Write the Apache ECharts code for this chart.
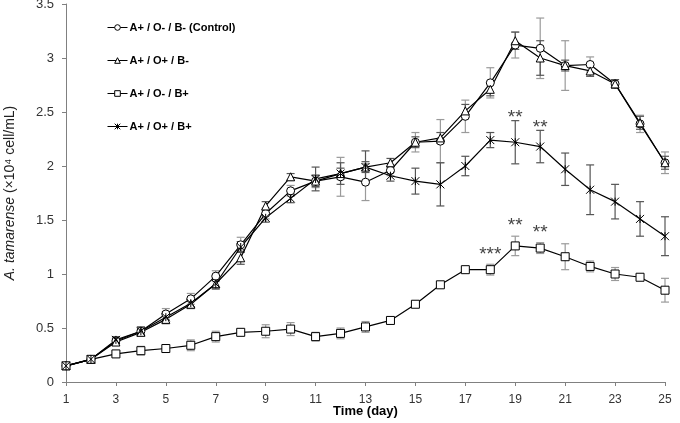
<!DOCTYPE html>
<html>
<head>
<meta charset="utf-8">
<script src="https://cdn.jsdelivr.net/npm/echarts@6/dist/echarts.min.js"></script>
<style>
  html, body { margin: 0; padding: 0; background: #fff; }
  #chart { width: 680px; height: 423px; }
</style>
</head>
<body>
<div id="chart"></div>
<script>
// days of culture
var days = ['1','2','3','4','5','6','7','8','9','10','11','12','13','14','15','16','17','18','19','20','21','22','23','24','25'];

// A+ / O- / B- (Control)
var control    = [0.15,0.21,0.38,0.47,0.63,0.77,0.98,1.27,1.56,1.77,1.86,1.90,1.85,1.96,2.22,2.23,2.46,2.77,3.12,3.09,2.93,2.94,2.76,2.39,2.03];
var controlErr = [0.02,0.02,0.03,0.04,0.05,0.05,0.05,0.07,0.05,0.05,0.06,0.18,0.17,0.05,0.09,0.20,0.15,0.14,0.12,0.28,0.23,0.07,0.04,0.08,0.10];
// A+ / O+ / B-
var oPlus    = [0.15,0.21,0.37,0.46,0.58,0.72,0.91,1.15,1.63,1.90,1.86,1.93,1.99,2.03,2.22,2.26,2.51,2.71,3.16,3.00,2.93,2.88,2.76,2.40,2.03];
var oPlusErr = [0.02,0.02,0.03,0.03,0.04,0.04,0.04,0.06,0.04,0.03,0.05,0.05,0.05,0.04,0.05,0.05,0.06,0.06,0.08,0.16,0.05,0.05,0.04,0.06,0.06];
// A+ / O- / B+
var bPlus    = [0.15,0.21,0.26,0.29,0.31,0.34,0.42,0.46,0.47,0.49,0.42,0.45,0.51,0.57,0.72,0.90,1.04,1.04,1.26,1.24,1.16,1.07,1.00,0.97,0.85];
var bPlusErr = [0.02,0.02,0.02,0.04,0.03,0.05,0.05,0.03,0.06,0.06,0.04,0.05,0.05,0.02,0.02,0.02,0.02,0.05,0.09,0.05,0.12,0.05,0.06,0.02,0.11];
// A+ / O+ / B+
var oPlusBPlus    = [0.15,0.21,0.39,0.47,0.60,0.73,0.91,1.25,1.52,1.70,1.88,1.93,1.99,1.91,1.86,1.83,2.00,2.24,2.22,2.18,1.97,1.78,1.67,1.51,1.35];
var oPlusBPlusErr = [0.02,0.02,0.03,0.04,0.05,0.04,0.05,0.05,0.04,0.04,0.11,0.10,0.15,0.05,0.12,0.20,0.09,0.07,0.20,0.15,0.15,0.23,0.16,0.16,0.18];

// significance marks
var sigDaysB  = ['18','19','20'];
var sigTextB  = ['***','**','**'];
var sigDaysOB = ['19','20'];
var sigTextOB = ['**','**'];

var yTicks = ['0','0.5','1','1.5','2','2.5','3','3.5'];

var names = ['A+ / O- / B- (Control)', 'A+ / O+ / B-', 'A+ / O- / B+', 'A+ / O+ / B+'];
var starPath = 'path://M0,0L10,10M10,0L0,10M5,0L5,10';

function lineSeries(name, values, symbol) {
    return {
        name: name,
        type: 'line',
        data: values,
        symbol: symbol,
        symbolSize: 8,
        showAllSymbol: true,
        lineStyle: { color: '#000', width: 1.2 },
        itemStyle: { color: '#fff', borderColor: '#000', borderWidth: 1 },
        z: 3
    };
}

function errSeries(values, errs, color) {
    return {
        type: 'custom',
        silent: true,
        z: 2,
        data: values.map(function(v, i) { return [i, v - errs[i], v + errs[i]]; }),
        encode: { x: 0, y: [1, 2] },
        renderItem: function(params, api) {
            var lo = api.coord([api.value(0), api.value(1)]);
            var hi = api.coord([api.value(0), api.value(2)]);
            var w = 4;
            var st = { stroke: color, lineWidth: 1.2 };
            return {
                type: 'group',
                children: [
                    { type: 'line', shape: { x1: hi[0], y1: hi[1], x2: lo[0], y2: lo[1] }, style: st },
                    { type: 'line', shape: { x1: hi[0] - w, y1: hi[1], x2: hi[0] + w, y2: hi[1] }, style: st },
                    { type: 'line', shape: { x1: lo[0] - w, y1: lo[1], x2: lo[0] + w, y2: lo[1] }, style: st }
                ]
            };
        }
    };
}

// gap = pixels between top of error bar and centre of the stars
function sigSeries(sDays, sText, values, errs, gap) {
    return {
        type: 'custom',
        silent: true,
        z: 4,
        data: sDays.map(function(d) {
            var i = days.indexOf(d);
            return [i, values[i] + errs[i]];
        }),
        renderItem: function(params, api) {
            var p = api.coord([api.value(0), api.value(1)]);
            return {
                type: 'text',
                x: p[0],
                y: p[1] - gap + 4,
                style: {
                    text: sText[params.dataIndex],
                    font: '19px "Liberation Sans"',
                    fill: '#444',
                    align: 'center',
                    verticalAlign: 'middle'
                }
            };
        }
    };
}

var chart = echarts.init(document.getElementById('chart'));
var option = {
    animation: false,
    backgroundColor: '#fff',
    grid: { left: 66, right: 15, top: 4, bottom: 41, outerBoundsMode: 'none', containLabel: false },
    legend: {
        data: names,
        orient: 'vertical',
        left: 102,
        top: 17,
        itemWidth: 20,
        itemHeight: 7,
        itemGap: 22,
        lineStyle: { width: 1 },
        itemStyle: { borderWidth: 1 },
        textStyle: { fontFamily: 'Liberation Sans', fontWeight: 'bold', fontSize: 11, color: '#000', padding: [0, 0, 0, -3] }
    },
    xAxis: {
        type: 'category',
        data: days,
        boundaryGap: false,
        name: 'Time (day)',
        nameLocation: 'middle',
        nameGap: 23,
        nameMoveOverlap: false,
        nameTextStyle: { fontFamily: 'Liberation Sans', fontWeight: 'bold', fontSize: 13, color: '#000' },
        axisLine: { lineStyle: { color: '#808080', width: 1 } },
        axisTick: { interval: 1, length: 4, lineStyle: { color: '#808080' } },
        axisLabel: { interval: 1, margin: 12, fontFamily: 'Liberation Sans', fontSize: 12, color: '#333' },
        splitLine: { show: false }
    },
    yAxis: {
        type: 'value',
        min: 0,
        max: 3.5,
        interval: 0.5,
        name: '{i|A. tamarense} (×10⁴ cell/mL)',
        nameLocation: 'middle',
        nameRotate: 90,
        nameGap: 49,
        nameMoveOverlap: false,
        nameTextStyle: {
            fontFamily: 'Liberation Sans', fontSize: 14, color: '#222',
            rich: { i: { fontFamily: 'Liberation Sans', fontSize: 14, fontStyle: 'italic', color: '#222' } }
        },
        axisLine: { show: true, lineStyle: { color: '#808080', width: 1 } },
        axisTick: { show: true, length: 4, lineStyle: { color: '#808080' } },
        axisLabel: {
            margin: 12, fontFamily: 'Liberation Sans', fontSize: 13, color: '#333',
            formatter: function(v) { return yTicks[Math.round(v / 0.5)]; }
        },
        splitLine: { show: false }
    },
    series: [
        errSeries(control, controlErr, '#9a9a9a'),
        errSeries(oPlus, oPlusErr, '#555'),
        errSeries(bPlus, bPlusErr, '#9a9a9a'),
        errSeries(oPlusBPlus, oPlusBPlusErr, '#555'),
        lineSeries(names[0], control, 'circle'),
        lineSeries(names[1], oPlus, 'triangle'),
        lineSeries(names[2], bPlus, 'rect'),
        lineSeries(names[3], oPlusBPlus, starPath),
        sigSeries(sigDaysB, sigTextB, bPlus, bPlusErr, 14),
        sigSeries(sigDaysOB, sigTextOB, oPlusBPlus, oPlusBPlusErr, 7)
    ]
};
chart.setOption(option);
</script>
</body>
</html>
